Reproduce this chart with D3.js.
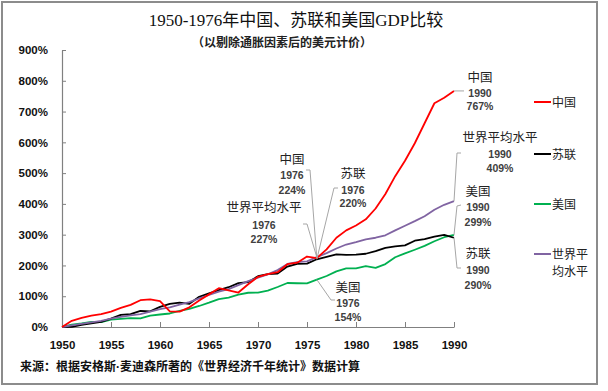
<!DOCTYPE html>
<html><head><meta charset="utf-8">
<script src="https://cdn.jsdelivr.net/npm/d3@7"></script>
<style>
body{margin:0;background:#fff;}
svg{display:block;}
.cn{font-family:"Noto Sans CJK SC",sans-serif;}
</style></head>
<body>
<svg id="c" width="608" height="391"></svg>
<script>
const years = d3.range(1950, 1991);
const china = [0,20,30,37,42,50,62,72,87,90, 84,51,50,64,86,106,126,119,112,139, 163,172,178,204,209,229,224,252,290,314, 330,350,385,432,490,540,597,662,727,745, 767];
const ussr = [0,0.5,7,11.6,17,27,39.2,42,52.6,51, 65.3,74.8,79.5,75.4,98.1,109.3,119.5,129.2,142.6,146, 164.9,172,173.5,196.5,205.1,206,220,227.9,236.2,234.6, 235,238,246.4,257.4,262,265.3,280.3,285.2,293.4,299.3, 290];
const usa = [0,7.6,11.6,16.8,16,24.2,26.6,29,27.7,37.2, 40.6,43.9,52.5,59.1,68.3,79.1,90.8,95.6,104.9,111.3, 111.7,118.3,129.9,142.9,142.2,141.6,154,165.7,180.9,190.4, 190.6,197.8,192.2,204.5,226.7,239.3,251,263.4,278.6,291.7, 299];
const world = [0,5,10,15,20,27,33,38,42,50, 58,64,73,81,93,104,115,123,136,149, 160,171,185,205,211,213,227,240,255,268, 276,285,290,298,314,329,344,360,381,397, 409];
const seriesNames = ["中国","苏联","美国","世界平均水平"];
const legendLabels = [["中国"],["苏联"],["美国"],["世界平","均水平"]];
const colors = ["#ff0000","#000000","#00b050","#8064a2"];
const yTicks = [0,100,200,300,400,500,600,700,800,900];
const xTicks = [1950,1955,1960,1965,1970,1975,1980,1985,1990];
const title = "1950-1976年中国、苏联和美国GDP比较";
const subtitle = "（以剔除通胀因素后的美元计价）";
const sourceA = "来源：根据安格斯";
const sourceB = "麦迪森所著的《世界经济千年统计》数据计算";

const svg = d3.select("#c");
svg.append("rect").attr("x",2).attr("y",2).attr("width",595).attr("height",382)
  .attr("fill","#fff").attr("stroke","#8c8c8c").attr("stroke-width",2);

const x = d3.scaleLinear().domain([1950,1990]).range([62,454]);
const y = d3.scaleLinear().domain([0,900]).range([327,50]);

svg.append("text").attr("x",296).attr("y",26).attr("text-anchor","middle")
  .attr("font-family","'Liberation Serif','Noto Sans CJK SC',serif").attr("font-size",17).attr("fill","#111").text(title);
svg.append("text").attr("class","cn").attr("x",282).attr("y",46.5).attr("text-anchor","middle")
  .attr("font-size",12).attr("font-weight","bold").attr("fill","#222").text(subtitle);

// axes
const yAxis = d3.axisLeft(y).tickValues(yTicks).tickFormat(d=>d+"%").tickSize(-4).tickSizeOuter(0).tickPadding(14);
const gy = svg.append("g").attr("transform","translate(62,0)").call(yAxis);
const xAxis = d3.axisBottom(x).tickValues(xTicks).tickFormat(d3.format("d")).tickSize(-5).tickSizeOuter(0).tickPadding(14);
const gx = svg.append("g").attr("transform","translate(0,327)").call(xAxis);
[gy,gx].forEach(g=>{
  g.select(".domain").attr("stroke","#808080").attr("stroke-width",1.2);
  g.selectAll(".tick line").attr("stroke","#808080");
  g.selectAll("text").attr("font-family","'Liberation Sans',Arial,sans-serif")
   .attr("font-size",11.5).attr("font-weight","bold").attr("fill","#111");
});

// lines
const line = d3.line().x((d,i)=>x(years[i])).y(d=>y(d));
const data = [china, ussr, usa, world];
[2,1,3,0].forEach(k=>{
  svg.append("path").datum(data[k]).attr("d",line).attr("fill","none")
    .attr("stroke",colors[k]).attr("stroke-width",1.8).attr("stroke-linejoin","round");
});

// leader lines
const lead = "#a6a6a6";
function poly(pts){
  svg.append("polyline").attr("points",pts.map(p=>p.join(",")).join(" "))
    .attr("fill","none").attr("stroke",lead).attr("stroke-width",1);
}
const x76 = x(1976), x90 = x(1990);
poly([[x90,y(china[40])],[464,y(china[40])]]);
poly([[x90,y(world[40])],[457,153],[461,153]]);
poly([[x90,y(usa[40])],[457,206],[461,205]]);
poly([[x90,y(ussr[40])],[457,268],[461,268]]);
poly([[306,170],[310,170],[x76,y(china[26])]]);
poly([[338,188],[334,188],[x76,y(ussr[26])]]);
poly([[303,224],[307,224],[x76,y(world[26])]]);
poly([[x76,y(usa[26])],[331,300],[335,300]]);

// annotation blocks
function block(cx, ys, name, yr, val){
  svg.append("text").attr("class","cn").attr("x",cx).attr("y",ys[0]+4.5).attr("text-anchor","middle")
    .attr("font-size",12.5).attr("fill","#222").text(name);
  svg.append("text").attr("x",cx).attr("y",ys[1]+4).attr("text-anchor","middle")
    .attr("font-family","'Liberation Sans',Arial,sans-serif").attr("font-weight","bold")
    .attr("font-size",10.5).attr("fill","#404040").text(yr);
  svg.append("text").attr("x",cx).attr("y",ys[2]+4).attr("text-anchor","middle")
    .attr("font-family","'Liberation Sans',Arial,sans-serif").attr("font-weight","bold")
    .attr("font-size",10.5).attr("fill","#404040").text(val);
}
block(480,[77,93,106],seriesNames[0],"1990",Math.round(china[40])+"%");
block(500,[137,154,168],seriesNames[3],"1990",Math.round(world[40])+"%");
block(478,[191,207,222],seriesNames[2],"1990",Math.round(usa[40])+"%");
block(478,[253,270,285],seriesNames[1],"1990",Math.round(ussr[40])+"%");
block(292,[159,175,190],seriesNames[0],"1976",Math.round(china[26])+"%");
block(353,[173,190,203],seriesNames[1],"1976",Math.round(ussr[26])+"%");
block(264,[207,225,239],seriesNames[3],"1976",Math.round(world[26])+"%");
block(348,[287,303,317],seriesNames[2],"1976",Math.round(usa[26])+"%");

// legend
const legY = [102,154,204,254];
legendLabels.forEach((lab,i)=>{
  svg.append("line").attr("x1",534).attr("x2",551).attr("y1",legY[i]).attr("y2",legY[i])
    .attr("stroke",colors[i]).attr("stroke-width",2);
  lab.forEach((t,j)=>{
    svg.append("text").attr("class","cn").attr("x",552).attr("y",legY[i]+4.5+j*17)
      .attr("font-size",12).attr("fill","#222").text(t);
  });
});

const src = svg.append("text").attr("class","cn").attr("x",20).attr("y",371).attr("font-size",12)
  .attr("font-weight","bold").attr("fill","#111");
src.append("tspan").text(sourceA);
src.append("tspan").attr("font-family","'Liberation Sans',Arial,sans-serif").text("·");
src.append("tspan").text(sourceB);
</script>
</body></html>
